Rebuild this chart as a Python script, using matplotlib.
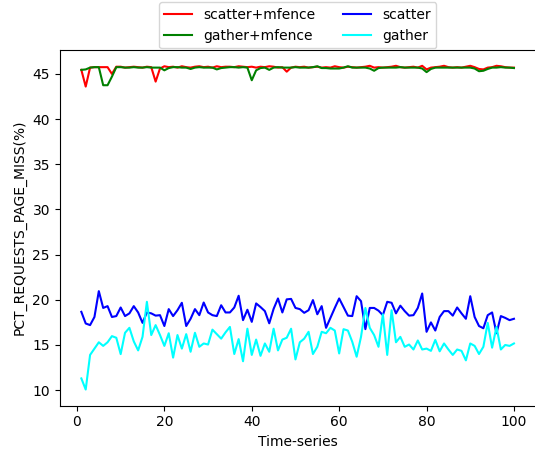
import numpy as np
import matplotlib
matplotlib.use("Agg")
import matplotlib.pyplot as plt

# time steps
steps = np.arange(1, 101)

scatter_mfence = [
    45.45, 43.6, 45.7, 45.75, 45.75, 45.75, 45.75, 45.0, 45.8, 45.8,
    45.7, 45.75, 45.8, 45.75, 45.7, 45.8, 45.75, 44.15, 45.6, 45.85,
    45.75, 45.8, 45.7, 45.85, 45.75, 45.7, 45.8, 45.85, 45.75, 45.8,
    45.7, 45.85, 45.75, 45.8, 45.8, 45.75, 45.85, 45.8, 45.75, 45.8,
    45.7, 45.8, 45.75, 45.85, 45.8, 45.7, 45.75, 45.25, 45.7, 45.8,
    45.75, 45.8, 45.7, 45.75, 45.8, 45.7, 45.75, 45.7, 45.85, 45.75,
    45.7, 45.8, 45.75, 45.7, 45.75, 45.8, 45.9, 45.7, 45.75, 45.7,
    45.75, 45.8, 45.9, 45.75, 45.7, 45.75, 45.8, 45.7, 45.9, 45.5,
    45.7, 45.75, 45.8, 45.9, 45.75, 45.7, 45.75, 45.7, 45.8, 45.9,
    45.75, 45.55, 45.5, 45.7, 45.75, 45.9, 45.85, 45.75, 45.7, 45.7,
]

gather_mfence = [
    45.45, 45.5, 45.7, 45.75, 45.75, 43.75, 43.75, 44.7, 45.75, 45.75,
    45.7, 45.7, 45.75, 45.7, 45.7, 45.75, 45.7, 45.7, 45.7, 45.4,
    45.65, 45.75, 45.75, 45.7, 45.7, 45.55, 45.7, 45.75, 45.7, 45.7,
    45.7, 45.5, 45.65, 45.7, 45.75, 45.75, 45.7, 45.75, 45.7, 44.3,
    45.4, 45.65, 45.7, 45.45, 45.7, 45.75, 45.7, 45.7, 45.7, 45.75,
    45.7, 45.7, 45.7, 45.75, 45.85, 45.65, 45.65, 45.6, 45.6, 45.6,
    45.7, 45.85, 45.7, 45.7, 45.7, 45.7, 45.6, 45.35, 45.65, 45.7,
    45.7, 45.7, 45.7, 45.75, 45.7, 45.7, 45.7, 45.7, 45.6, 45.2,
    45.55, 45.7, 45.7, 45.7, 45.7, 45.7, 45.7, 45.7, 45.7, 45.7,
    45.6, 45.3, 45.35, 45.55, 45.7, 45.7, 45.75, 45.7, 45.7, 45.65,
]

scatter = [
    18.67, 17.38, 17.2, 18.1, 20.96, 19.1, 19.3, 18.1, 18.2, 19.15,
    18.2, 18.5, 19.3, 18.6, 17.45, 18.6, 18.5, 18.25, 18.3, 17.1,
    18.97, 18.2, 18.85, 19.67, 17.1, 17.9, 18.97, 18.3, 19.7, 18.6,
    18.3, 18.2, 19.4, 18.6, 18.6, 19.15, 20.45, 17.75, 18.9, 17.56,
    19.6, 19.2, 18.75, 17.4, 19.0, 20.15, 18.6, 20.05, 20.1, 19.1,
    18.97, 18.56, 18.85, 19.97, 18.4, 19.3, 16.9, 18.0, 19.1, 20.15,
    19.2, 18.25, 18.2, 20.4, 19.85, 16.75, 19.1, 19.1, 18.8, 18.3,
    19.78, 19.67, 18.5, 19.35, 18.75, 18.25, 18.3, 19.1, 20.7, 16.46,
    17.5, 16.6, 18.1, 18.75, 18.75, 18.25, 19.15, 18.5, 17.9, 20.4,
    18.1, 17.1, 16.85, 18.3, 18.6, 16.3, 18.2, 18.0, 17.75, 17.9,
]

gather = [
    11.3, 10.07, 13.9, 14.6, 15.3, 14.9, 15.3, 15.98, 15.8, 13.99,
    16.35, 16.9, 15.4, 14.4, 15.9, 19.78, 16.1, 17.2, 16.1, 14.9,
    16.3, 13.6, 16.1, 14.6, 16.2, 14.25, 16.35, 14.8, 15.17, 15.05,
    16.7, 16.2, 15.7, 16.4, 17.0, 14.0, 15.65, 13.2, 16.8, 13.9,
    15.6, 13.8, 15.17, 14.25, 16.8, 14.4, 15.6, 15.8, 16.8, 13.4,
    15.3, 15.7, 16.46, 14.0, 14.8, 16.46, 16.3, 16.9, 16.6, 14.06,
    16.75, 16.6, 15.35, 13.7, 15.9, 19.1, 16.9, 16.1, 14.8, 18.4,
    13.9, 18.85, 15.3, 15.9, 14.8, 15.05, 14.5, 15.5, 14.5, 14.6,
    14.35, 15.56, 14.3, 15.17, 14.5, 13.9, 14.5, 14.35, 13.3, 15.17,
    14.9, 14.0, 14.8, 17.45, 14.7, 17.0, 14.5, 15.0, 14.9, 15.17,
]

fig = plt.figure(figsize=(5.35, 4.49), dpi=100)
# right spine sits just past the figure edge, as in the reference
ax = fig.add_axes([0.1116, 0.0964, 0.8895, 0.7931])
ax.spines["right"].set_visible(False)

ax.plot(steps, scatter_mfence, color="red", label="scatter+mfence")
ax.plot(steps, gather_mfence, color="green", label="gather+mfence")
ax.plot(steps, scatter, color="blue", label="scatter")
ax.plot(steps, gather, color="cyan", label="gather")

ax.set_xticks([0, 20, 40, 60, 80, 100])
ax.set_yticks([10, 15, 20, 25, 30, 35, 40, 45])
ax.set_xlabel("Time-series")
ax.set_ylabel("PCT_REQUESTS_PAGE_MISS(%)")

ax.legend(loc="upper center", bbox_to_anchor=(0.5, 1.152), ncol=2)

fig.savefig("out.png", dpi=100)
